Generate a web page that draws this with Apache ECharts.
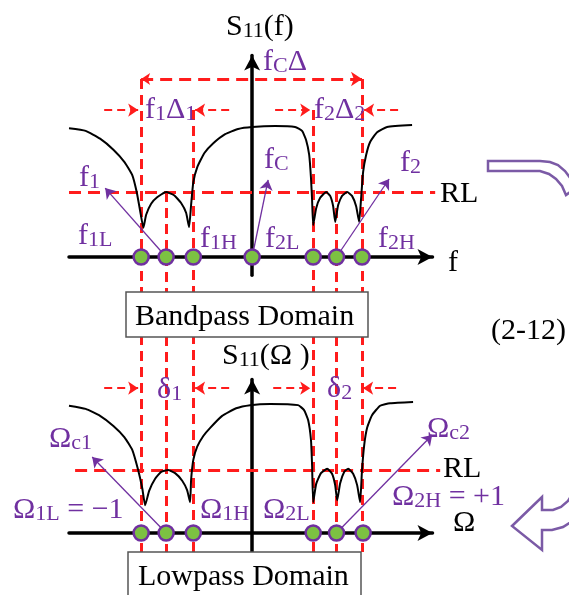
<!DOCTYPE html>
<html><head><meta charset="utf-8">
<script src="https://cdn.jsdelivr.net/npm/echarts@6/dist/echarts.min.js"></script>
<style>html,body{margin:0;padding:0;background:#fff}#c{width:569px;height:595px}</style>
</head><body><div id="c"></div>
<script>
// ---------- DATA ----------
// Bandpass domain |S11(f)| response (x: normalized frequency, y: level in RL units)
const bandpassCurve = [
  [-1.65,1.98],[-1.50,1.94],[-1.37,1.82],[-1.25,1.65],[-1.15,1.46],[-1.08,1.26],[-1.04,1.0],[-1.01,0.72],[-0.98,0.45],
  [-0.955,0.65],[-0.91,0.82],[-0.856,0.92],[-0.775,1.0],[-0.703,0.95],[-0.64,0.83],[-0.595,0.68],[-0.568,0.46],
  [-0.55,0.8],[-0.53,1.15],[-0.495,1.38],[-0.43,1.6],[-0.35,1.75],[-0.243,1.89],[-0.126,1.97],[0,2.0],
  [0.207,2.015],[0.387,2.0],[0.45,1.94],[0.486,1.8],[0.514,1.57],[0.53,1.22],[0.54,0.88],[0.55,0.49],
  [0.577,0.75],[0.613,0.91],[0.667,1.0],[0.703,0.94],[0.73,0.78],[0.748,0.54],[0.775,0.8],[0.81,0.94],
  [0.856,1.0],[0.90,0.94],[0.937,0.78],[0.964,0.54],[0.982,0.91],[1.0,1.31],[1.027,1.57],[1.063,1.77],
  [1.126,1.92],[1.216,2.0],[1.441,2.03]
];
// Lowpass domain |S11(Omega)| response
const lowpassCurve = [
  [-1.65,2.02],[-1.50,1.97],[-1.37,1.86],[-1.25,1.70],[-1.15,1.52],[-1.08,1.32],[-1.027,1.0],[-0.99,0.71],[-0.964,0.44],
  [-0.928,0.67],[-0.874,0.86],[-0.82,0.97],[-0.757,1.0],[-0.694,0.95],[-0.63,0.83],[-0.586,0.68],[-0.559,0.49],
  [-0.55,0.84],[-0.53,1.16],[-0.495,1.37],[-0.44,1.54],[-0.378,1.67],[-0.27,1.86],[-0.144,1.98],[-0.018,2.03],
  [0.162,2.05],[0.414,2.03],[0.468,1.95],[0.505,1.79],[0.53,1.48],[0.54,1.08],[0.55,0.49],
  [0.577,0.78],[0.62,0.95],[0.676,1.02],[0.72,0.94],[0.748,0.76],[0.766,0.52],[0.793,0.79],[0.829,0.97],
  [0.865,1.02],[0.91,0.94],[0.946,0.76],[0.973,0.49],[0.99,1.0],[1.01,1.40],[1.036,1.67],[1.08,1.87],
  [1.153,2.02],[1.243,2.06],[1.45,2.08]
];
// Band-edge / centre frequencies (dots on the axis)
const bandpassPoints = [-1.0, -0.775, -0.53, 0, 0.55, 0.76, 0.99];
const lowpassPoints  = [-1.0, -0.775, -0.53, 0.55, 0.76, 1.0];
// Guide lines: x position and top level (RL units, bandpass scale)
const guideX   = [-1.0, -0.775, -0.53, 0.55, 0.76, 0.99];
const guideTop = [2.738, 1.0, 2.26, 2.26, 1.0, 2.738];
const guideBottom = -4.54;
const rlLevel = 1;
// Bandwidth markers
const fcDeltaLevel = 2.738;
const subDeltaLevelBP = 2.26;
const subDeltaLevelLP = 2.30;
const deltaArrowsX = [[-1.333,-1.027],[-0.207,-0.514],[0.207,0.523],[1.315,1.009]];
const deltaArrowsXLP = [[-1.333,-1.027],[-0.207,-0.514],[0.19,0.523],[1.297,1.0]];
// Pointer arrows: from a dot to its label
const bpPointers = [[[-0.775,0],[-1.324,1.06]],[[0,0],[0.144,1.185]],[[0.76,0],[1.234,1.2]]];
const lpPointers = [[[-0.775,0],[-1.441,1.206]],[[0.76,0],[1.622,1.556]]];

// ---------- STYLE ----------
const FONT = '"Liberation Serif","Times New Roman",serif';
const PURPLE = '#7030a0', RED = '#ff1c1c', GREEN = '#7cc142', ARROWP = '#7b5aa6';

const chart = echarts.init(document.getElementById('c'), null, {renderer:'canvas'});

function axisX(g){return {gridIndex:g,type:'value',min:-1.65,max:1.625,
  axisLine:{show:true,onZero:true,symbol:['none','arrow'],symbolSize:[12,15],lineStyle:{color:'#000',width:3.5}},
  axisTick:{show:false},axisLabel:{show:false},splitLine:{show:false}};}
function axisY(g,mn,mx){return {gridIndex:g,type:'value',min:mn,max:mx,
  axisLine:{show:true,onZero:true,symbol:['none','arrow'],symbolSize:[12,15],lineStyle:{color:'#000',width:3.5}},
  axisTick:{show:false},axisLabel:{show:false},splitLine:{show:false}};}

function lbl(rich, x, base, color){
  return {type:'text', x:x, y:base+7, z:110,
    style:{text:rich, align:'left', verticalAlign:'bottom',
      rich:{
        m:{fontSize:30, fontFamily:FONT, fill:color, lineHeight:30, verticalAlign:'bottom'},
        s:{fontSize:22, fontFamily:FONT, fill:color, lineHeight:8, verticalAlign:'bottom'}
      }}};
}

const guideLines = guideX.map((x,i)=>({coords:[[x,guideTop[i]],[x,guideBottom]]}));

const series = [
  {type:'lines',coordinateSystem:'cartesian2d',xAxisIndex:0,yAxisIndex:0,clip:false,silent:true,z:3,
   lineStyle:{color:RED,width:3,type:[10,6],opacity:1},data:guideLines},
  {type:'lines',coordinateSystem:'cartesian2d',xAxisIndex:0,yAxisIndex:0,clip:false,silent:true,z:3,
   lineStyle:{color:RED,width:3,type:[12,7],opacity:1},data:[{coords:[[-1.65,rlLevel],[1.649,rlLevel]]}]},
  {type:'lines',coordinateSystem:'cartesian2d',xAxisIndex:1,yAxisIndex:1,clip:false,silent:true,z:3,
   lineStyle:{color:RED,width:3,type:[12,7],opacity:1},data:[{coords:[[-1.595,rlLevel],[1.694,rlLevel]]}]},
  {type:'lines',coordinateSystem:'cartesian2d',xAxisIndex:0,yAxisIndex:0,clip:false,silent:true,z:3,
   symbol:['arrow','arrow'],symbolSize:[9,11],
   lineStyle:{color:RED,width:3,type:[12,7],opacity:1},data:[{coords:[[guideX[0],fcDeltaLevel],[guideX[5],fcDeltaLevel]]}]},
  {type:'lines',coordinateSystem:'cartesian2d',xAxisIndex:0,yAxisIndex:0,clip:false,silent:true,z:3,
   symbol:['none','arrow'],symbolSize:[8,10],
   lineStyle:{color:RED,width:2,type:[8,5],opacity:1},
   data:deltaArrowsX.map(a=>({coords:[[a[0],subDeltaLevelBP],[a[1],subDeltaLevelBP]]}))},
  {type:'lines',coordinateSystem:'cartesian2d',xAxisIndex:1,yAxisIndex:1,clip:false,silent:true,z:3,
   symbol:['none','arrow'],symbolSize:[8,10],
   lineStyle:{color:RED,width:2,type:[8,5],opacity:1},
   data:deltaArrowsXLP.map(a=>({coords:[[a[0],subDeltaLevelLP],[a[1],subDeltaLevelLP]]}))},
  {type:'line',xAxisIndex:0,yAxisIndex:0,data:bandpassCurve,showSymbol:false,smooth:0.15,silent:true,z:4,
   lineStyle:{color:'#000',width:2}},
  {type:'line',xAxisIndex:1,yAxisIndex:1,data:lowpassCurve,showSymbol:false,smooth:0.15,silent:true,z:4,
   lineStyle:{color:'#000',width:2}},
  {type:'lines',coordinateSystem:'cartesian2d',xAxisIndex:0,yAxisIndex:0,clip:false,silent:true,z:5,
   symbol:['none','arrow'],symbolSize:[7,10],
   lineStyle:{color:PURPLE,width:1.3,opacity:1},data:bpPointers.map(p=>({coords:p}))},
  {type:'lines',coordinateSystem:'cartesian2d',xAxisIndex:1,yAxisIndex:1,clip:false,silent:true,z:5,
   symbol:['none','arrow'],symbolSize:[7,10],
   lineStyle:{color:PURPLE,width:1.3,opacity:1},data:lpPointers.map(p=>({coords:p}))},
  {type:'scatter',xAxisIndex:0,yAxisIndex:0,data:bandpassPoints.map(x=>[x,0]),symbolSize:15,silent:true,z:6,
   itemStyle:{color:GREEN,borderColor:PURPLE,borderWidth:2.5,opacity:1}},
  {type:'scatter',xAxisIndex:1,yAxisIndex:1,data:lowpassPoints.map(x=>[x,0]),symbolSize:15,silent:true,z:6,
   itemStyle:{color:GREEN,borderColor:PURPLE,borderWidth:2.5,opacity:1}}
];

const graphics = [
  {type:'rect',z:100,shape:{x:126,y:292,width:242,height:45},style:{fill:'#fff',stroke:'#555',lineWidth:1.5}},
  {type:'rect',z:100,shape:{x:128,y:552,width:233,height:60},style:{fill:'#fff',stroke:'#555',lineWidth:1.5}},
  {type:'polygon',z:100,shape:{points:[[488,161],[540,161],[550,162],[558,165],[565,171],[571,179],[576,188],
     [566,195],[562,186],[556,179],[549,174],[540,171],[488,171]]},
   style:{fill:'#fff',stroke:ARROWP,lineWidth:2.5}},
  {type:'polygon',z:100,shape:{points:[[512,526],[542,497],[542,510],[553,510],[561,507],[568,501],[575,490],
     [590,497],[583,510],[574,520],[563,527],[552,530],[542,530],[542,550]]},
   style:{fill:'#fff',stroke:ARROWP,lineWidth:2.5}},
  // black labels
  lbl('{m|S}{s|11}{m|(f)}',226,35,'#000'),
  lbl('{m|RL}',440,202,'#000'),
  lbl('{m|f}',448,271,'#000'),
  lbl('{m|Bandpass Domain}',135,325,'#000'),
  lbl('{m|(2-12)}',491,339,'#000'),
  lbl('{m|S}{s|11}{m|(Ω )}',222,364,'#000'),
  lbl('{m|RL}',443,477,'#000'),
  lbl('{m|Ω}',453,531,'#000'),
  lbl('{m|Lowpass Domain}',138,585,'#000'),
  // purple labels
  lbl('{m|f}{s|C}{m|Δ}',263,70,PURPLE),
  lbl('{m|f}{s|1}{m|Δ}{s|1}',145,118,PURPLE),
  lbl('{m|f}{s|2}{m|Δ}{s|2}',314,118,PURPLE),
  lbl('{m|f}{s|1}',79,186,PURPLE),
  lbl('{m|f}{s|C}',264,168,PURPLE),
  lbl('{m|f}{s|2}',400,171,PURPLE),
  lbl('{m|f}{s|1L}',78,244,PURPLE),
  lbl('{m|f}{s|1H}',200,247,PURPLE),
  lbl('{m|f}{s|2L}',265,247,PURPLE),
  lbl('{m|f}{s|2H}',378,247,PURPLE),
  lbl('{m|δ}{s|1}',157,398,PURPLE),
  lbl('{m|δ}{s|2}',327,397,PURPLE),
  lbl('{m|Ω}{s|c1}',49,447,PURPLE),
  lbl('{m|Ω}{s|c2}',427,437,PURPLE),
  lbl('{m|Ω}{s|1L}{m| = −1}',13,518,PURPLE),
  lbl('{m|Ω}{s|1H}',200,518,PURPLE),
  lbl('{m|Ω}{s|2L}',263,518,PURPLE),
  lbl('{m|Ω}{s|2H}{m| = +1}',392,505,PURPLE)
];

chart.setOption({
  animation:false,
  backgroundColor:'#fff',
  grid:[{left:69,top:55.5,width:363.5,height:219.7},{left:69,top:379.5,width:363.5,height:172.4}],
  xAxis:[axisX(0),axisX(1)],
  yAxis:[axisY(0,-0.28,3.1),axisY(1,-0.3,2.437)],
  series:series,
  graphic:graphics
});
</script></body></html>
